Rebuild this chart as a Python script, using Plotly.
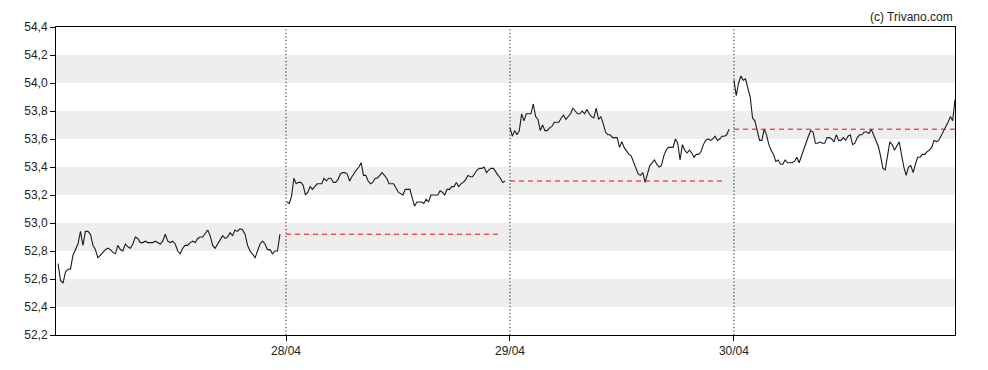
import numpy as np
import plotly.graph_objects as go

# ---- data ----
day_labels = ["28/04", "29/04", "30/04"]
day1 = [52.71, 52.59, 52.57, 52.65, 52.67, 52.67, 52.77, 52.81, 52.85, 52.94, 52.84, 52.94, 52.94, 52.92,
        52.84, 52.81, 52.75, 52.77, 52.79, 52.81, 52.82, 52.81, 52.79, 52.78, 52.84, 52.81, 52.80, 52.85,
        52.83, 52.82, 52.85, 52.90, 52.89, 52.86, 52.86, 52.87, 52.86, 52.86, 52.86, 52.87, 52.86, 52.85,
        52.87, 52.92, 52.87, 52.86, 52.87, 52.85, 52.80, 52.78, 52.82, 52.84, 52.84, 52.86, 52.87, 52.86,
        52.89, 52.90, 52.90, 52.93, 52.95, 52.91, 52.84, 52.82, 52.85, 52.89, 52.91, 52.89, 52.90, 52.93,
        52.91, 52.95, 52.94, 52.96, 52.95, 52.92, 52.84, 52.80, 52.78, 52.75, 52.80, 52.85, 52.87, 52.85,
        52.81, 52.81, 52.78, 52.80, 52.80, 52.92]
day2 = [53.15, 53.14, 53.19, 53.32, 53.28, 53.29, 53.29, 53.27, 53.20, 53.22, 53.26, 53.24, 53.26, 53.28,
        53.28, 53.28, 53.32, 53.30, 53.32, 53.32, 53.29, 53.29, 53.31, 53.35, 53.36, 53.36, 53.35, 53.30,
        53.33, 53.36, 53.38, 53.40, 53.43, 53.34, 53.34, 53.30, 53.28, 53.29, 53.32, 53.32, 53.34, 53.36,
        53.34, 53.32, 53.28, 53.28, 53.28, 53.25, 53.22, 53.21, 53.20, 53.24, 53.24, 53.24, 53.18, 53.12,
        53.15, 53.15, 53.15, 53.14, 53.17, 53.15, 53.20, 53.20, 53.20, 53.20, 53.23, 53.22, 53.20, 53.24,
        53.24, 53.26, 53.26, 53.29, 53.26, 53.28, 53.29, 53.31, 53.34, 53.33, 53.33, 53.36, 53.38, 53.39,
        53.39, 53.40, 53.36, 53.38, 53.39, 53.39, 53.36, 53.34, 53.32, 53.29, 53.30]
day3 = [53.68, 53.62, 53.66, 53.63, 53.66, 53.78, 53.73, 53.78, 53.78, 53.78, 53.85, 53.76, 53.74, 53.66,
        53.70, 53.66, 53.66, 53.68, 53.69, 53.72, 53.72, 53.72, 53.75, 53.77, 53.74, 53.76, 53.78, 53.82,
        53.80, 53.78, 53.78, 53.80, 53.78, 53.81, 53.78, 53.76, 53.75, 53.82, 53.74, 53.76, 53.71, 53.65,
        53.63, 53.63, 53.61, 53.61, 53.61, 53.54, 53.58, 53.54, 53.51, 53.49, 53.48, 53.44, 53.40, 53.35,
        53.34, 53.36, 53.29, 53.35, 53.41, 53.43, 53.45, 53.42, 53.40, 53.41, 53.48, 53.52, 53.54, 53.54,
        53.54, 53.60, 53.57, 53.45, 53.56, 53.52, 53.50, 53.52, 53.50, 53.47, 53.49, 53.49, 53.51, 53.56,
        53.59, 53.60, 53.59, 53.60, 53.62, 53.59, 53.60, 53.62, 53.62, 53.63, 53.67]
day4 = [54.02, 53.91, 54.00, 54.05, 54.02, 54.03, 53.96, 53.90, 53.75, 53.73, 53.66, 53.59, 53.59, 53.67,
        53.63, 53.56, 53.52, 53.49, 53.44, 53.45, 53.42, 53.42, 53.45, 53.43, 53.43, 53.43, 53.44, 53.47,
        53.43, 53.48, 53.52, 53.57, 53.62, 53.66, 53.65, 53.57, 53.57, 53.58, 53.57, 53.57, 53.61, 53.61,
        53.60, 53.58, 53.63, 53.59, 53.59, 53.61, 53.59, 53.62, 53.63, 53.56, 53.57, 53.61, 53.63, 53.63,
        53.65, 53.65, 53.64, 53.67, 53.63, 53.59, 53.55, 53.48, 53.39, 53.38, 53.49, 53.58, 53.56, 53.52,
        53.55, 53.58, 53.49, 53.40, 53.34, 53.40, 53.41, 53.36, 53.42, 53.47, 53.47, 53.49, 53.49, 53.51,
        53.52, 53.54, 53.59, 53.58, 53.59, 53.62, 53.65, 53.69, 53.72, 53.76, 53.73, 53.88]
days = [day1, day2, day3, day4]
# session position of first/last quote within each day (in day units)
session_start = [-0.018, 0.004, 0.0, 0.0]
session_end = [0.973, 0.978, 0.978, 0.987]
# reference (previous close) lines
ref_levels = [None, 52.92, 53.30, 53.67]
ref_end = [None, 0.96, 0.96, 0.987]
y_ticks = [52.2, 52.4, 52.6, 52.8, 53.0, 53.2, 53.4, 53.6, 53.8, 54.0, 54.2, 54.4]
x_range = [-0.027, 3.987]

fig = go.Figure()

for d, vals in enumerate(days):
    xs = np.linspace(d + session_start[d], d + session_end[d], len(vals))
    fig.add_trace(go.Scatter(x=xs, y=vals, mode="lines",
                             line=dict(color="#1a1a1a", width=1.1),
                             hoverinfo="skip", showlegend=False))

for d, lvl in enumerate(ref_levels):
    if lvl is None:
        continue
    fig.add_trace(go.Scatter(x=[d, d + ref_end[d]], y=[lvl, lvl], mode="lines",
                             line=dict(color="#ff0000", width=1, dash="5px,4px"),
                             hoverinfo="skip", showlegend=False))

shapes = []
# alternating grey bands
for i in range(1, len(y_ticks) - 1, 2):
    shapes.append(dict(type="rect", xref="paper", yref="y", x0=0, x1=1,
                       y0=y_ticks[i], y1=y_ticks[i + 1], fillcolor="#eeeeee",
                       line=dict(width=0), layer="below"))
# day separators
for d in range(1, 4):
    shapes.append(dict(type="line", xref="x", yref="paper", x0=d, x1=d, y0=0, y1=1,
                       line=dict(color="black", width=1, dash="1px,2.5px")))

# the page body adds an 8px offset, so the figure is sized to fit the window
fig.update_layout(
    width=980, height=362,
    margin=dict(l=48, r=33, t=12, b=27),
    paper_bgcolor="white", plot_bgcolor="white",
    font=dict(family="Liberation Sans, Arial, sans-serif", size=12, color="#222"),
    shapes=shapes,
    annotations=[dict(text="(c) Trivano.com", xref="paper", yref="paper", x=1.0, y=1.0,
                      xanchor="right", yanchor="bottom", yshift=1, showarrow=False,
                      font=dict(size=12, color="#222"))],
)
fig.update_xaxes(range=x_range, tickvals=[1, 2, 3], ticktext=day_labels,
                 showgrid=False, zeroline=False, showline=True, linecolor="black", linewidth=1,
                 mirror=True, ticks="outside", ticklen=5, tickcolor="black")
fig.update_yaxes(range=[52.2, 54.4], tickvals=y_ticks,
                 ticktext=[f"{v:.1f}".replace(".", ",") for v in y_ticks],
                 showgrid=False, zeroline=False, showline=True, linecolor="black", linewidth=1,
                 mirror=True, ticks="outside", ticklen=5, tickcolor="black")

fig.write_html("out.html")
